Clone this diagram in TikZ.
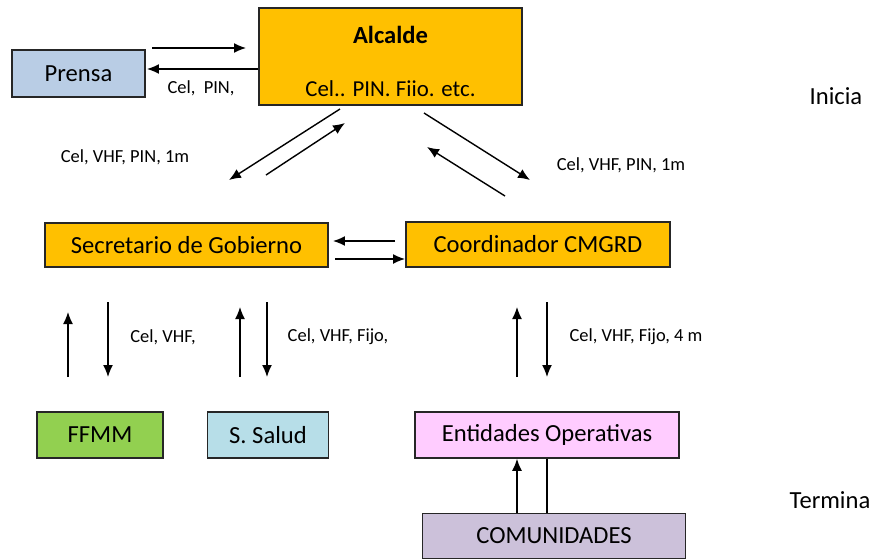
\documentclass[tikz,border=0pt]{standalone}
\usepackage{fontspec}
\setmainfont{Carlito}
\usetikzlibrary{arrows.meta}
\definecolor{naranja}{HTML}{FFC000}
\definecolor{azulgris}{HTML}{B9CDE5}
\definecolor{verde}{HTML}{92D050}
\definecolor{celeste}{HTML}{B7DEE8}
\definecolor{rosa}{HTML}{FFCCFF}
\definecolor{lila}{HTML}{CCC1DA}
\tikzset{%
	caja/.style     = {draw=black!85, line width=0.9pt, rectangle, font=\fontsize{14}{16}\selectfont,
		inner sep=0pt}, % Box
	etiq/.style     = {font=\fontsize{10.5}{12}\selectfont, inner sep=0pt}, % Link label
	flecha/.style   = {->, line width=0.8pt}
}

\begin{document}
\begin{tikzpicture}[x=0.02cm,y=-0.02cm,>={Latex[length=2.4mm,width=2mm]}]
	\useasboundingbox (0,0) rectangle (870,559);
	
	\node[caja,fill=azulgris,minimum width=2.66cm,minimum height=0.94cm] at (78.5,73.5) (prensa) {Prensa};
	\node[caja,fill=naranja,minimum width=5.26cm,minimum height=1.94cm] at (390.5,56.5) (alcalde) {};
	\node[font=\fontsize{14}{16}\selectfont\bfseries] at (alcalde.center|-0,35) (alcalde1) {Alcalde};
	\node[font=\fontsize{13}{15}\selectfont] at (alcalde.center|-0,89) (alcalde2) {Cel.. PIN. Fiio. etc.};
	\node[caja,fill=naranja,minimum width=5.66cm,minimum height=0.88cm] at (186.5,245) (secretario) {Secretario de Gobierno};
	\node[caja,fill=naranja,minimum width=5.28cm,minimum height=0.90cm] at (538,244.5) (coordinador) {Coordinador CMGRD};
	\node[caja,fill=verde,minimum width=2.52cm,minimum height=0.92cm] at (100,435) (ffmm) {FFMM};
	\node[caja,fill=celeste,minimum width=2.42cm,minimum height=0.92cm] at (268,435) (salud) {S. Salud};
	\node[caja,fill=rosa,minimum width=5.28cm,minimum height=0.92cm] at (547,435) (entidades) {Entidades Operativas};
	\node[caja,fill=lila,minimum width=5.26cm,minimum height=0.9cm] at (554,536) (comunidades) {COMUNIDADES};
	
	\node[font=\fontsize{14}{16}\selectfont] at (836,96) (inicia) {Inicia};
	\node[font=\fontsize{14}{16}\selectfont] at (830,500) (termina) {Termina};
	
	\node[etiq] at (201,88) (l1) {Cel,\ \ PIN,};
	\node[etiq] at (125,157) (l2) {Cel, VHF, PIN, 1m};
	\node[etiq] at (621,165) (l3) {Cel, VHF, PIN, 1m};
	\node[etiq] at (163,337) (l4) {Cel, VHF,};
	\node[etiq] at (338,337) (l5) {Cel, VHF, Fijo,};
	\node[etiq] at (636,337) (l6) {Cel, VHF, Fijo, 4 m};
	
	% extremos de las flechas
	\coordinate (p1) at (152,48);  \coordinate (p2) at (246,48);
	\coordinate (p3) at (258,69);  \coordinate (p4) at (147,69);
	\coordinate (a1) at (340,109); \coordinate (a2) at (229,180);
	\coordinate (a3) at (266,175); \coordinate (a4) at (345,123);
	\coordinate (a5) at (424,113); \coordinate (a6) at (530,180);
	\coordinate (a7) at (505,196); \coordinate (a8) at (427,147);
	\coordinate (s1) at (395,241); \coordinate (s2) at (333,241);
	\coordinate (s3) at (335,259); \coordinate (s4) at (405,259);
	\coordinate (f1) at (68,377);  \coordinate (f2) at (68,312);
	\coordinate (f3) at (108,302); \coordinate (f4) at (108,377);
	\coordinate (h1) at (240,377); \coordinate (h2) at (240,307);
	\coordinate (h3) at (267,302); \coordinate (h4) at (267,377);
	\coordinate (c1) at (517,377); \coordinate (c2) at (517,307);
	\coordinate (c3) at (547,302); \coordinate (c4) at (547,377);
	
	\draw[flecha] (p1) -- (p2);
	\draw[flecha] (p3) -- (p4);
	\draw[flecha] (a1) -- (a2);
	\draw[flecha] (a3) -- (a4);
	\draw[flecha] (a5) -- (a6);
	\draw[flecha] (a7) -- (a8);
	\draw[flecha] (s1) -- (s2);
	\draw[flecha] (s3) -- (s4);
	\draw[flecha] (f1) -- (f2);
	\draw[flecha] (f3) -- (f4);
	\draw[flecha] (h1) -- (h2);
	\draw[flecha] (h3) -- (h4);
	\draw[flecha] (c1) -- (c2);
	\draw[flecha] (c3) -- (c4);
	\draw[flecha] (comunidades.north-|c1) -- (entidades.south-|c1);
	\draw[line width=0.8pt] (comunidades.north-|c3) -- (entidades.south-|c3);
	
\end{tikzpicture}
\end{document}
